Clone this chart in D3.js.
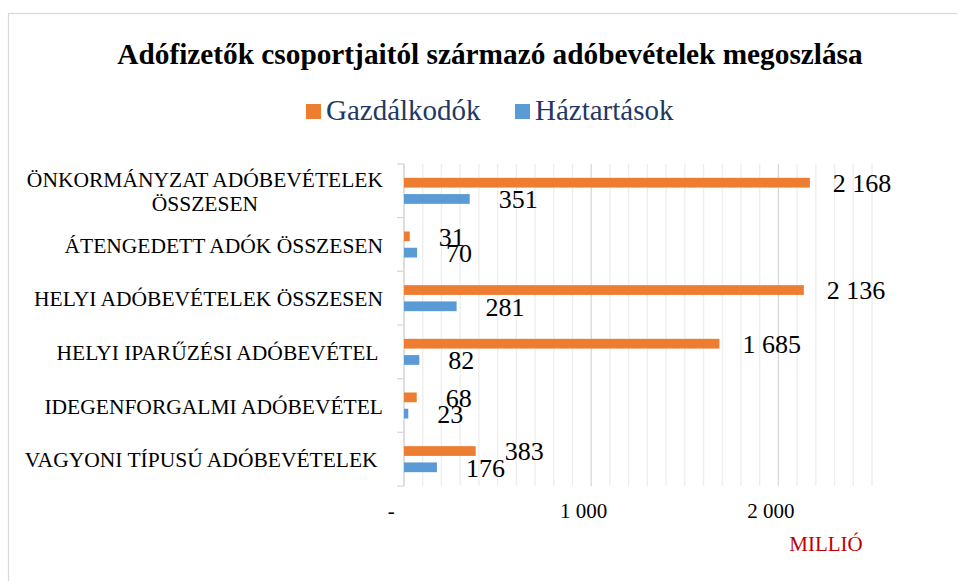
<!DOCTYPE html>
<html>
<head>
<meta charset="utf-8">
<title>Adóbevételek megoszlása</title>
<script src="https://cdn.jsdelivr.net/npm/d3@7/dist/d3.min.js"></script>
<style>
  body { margin: 0; background: #fff; }
  svg text { font-family: 'Liberation Serif', 'Times New Roman', serif; }
</style>
</head>
<body>
<div id="chart"></div>
<script>
// data
var categories = [
  "ÖNKORMÁNYZAT ADÓBEVÉTELEK ÖSSZESEN",
  "ÁTENGEDETT ADÓK ÖSSZESEN",
  "HELYI ADÓBEVÉTELEK ÖSSZESEN",
  "HELYI IPARŰZÉSI ADÓBEVÉTEL ",
  "IDEGENFORGALMI ADÓBEVÉTEL",
  "VAGYONI TÍPUSÚ ADÓBEVÉTELEK "
];
var seriesNames = ["Gazdálkodók", "Háztartások"];
var gazdalkodok = [2168, 31, 2136, 1685, 68, 383];
var haztartasok = [351, 70, 281, 82, 23, 176];
var tickValues = [0, 1000, 2000];
var colors = ["#ED7D31", "#5B9BD5"];

(function() {
  "use strict";

  var w = 957, h = 581;
  var plot = {left: 404, right: 872, top: 164, bottom: 486};
  var serif = "'Liberation Serif', 'Times New Roman', serif";

  var svg = d3.select('#chart')
    .append('svg')
    .attr('width', w)
    .attr('height', h)
    .style('font-family', serif);

  svg.append('rect')
    .attr('width', w).attr('height', h)
    .attr('fill', '#fff');

  // outer frame (runs off the right and bottom edge)
  svg.append('rect')
    .attr('x', 8.5).attr('y', 13.5)
    .attr('width', 1000).attr('height', 700)
    .attr('fill', 'none')
    .attr('stroke', '#D9D9D9')
    .attr('stroke-width', 1.2);

  svg.append('text')
    .attr('x', 490).attr('y', 64)
    .attr('text-anchor', 'middle')
    .style('font-size', '29.3px')
    .style('font-weight', 'bold')
    .text("Adófizetők csoportjaitól származó adóbevételek megoszlása");

  // legend
  var legendX = [306, 515];
  seriesNames.forEach(function(name, i) {
    svg.append('rect')
      .attr('x', legendX[i]).attr('y', 104)
      .attr('width', 15).attr('height', 15)
      .attr('fill', colors[i]);
    svg.append('text')
      .attr('x', legendX[i] + 20).attr('y', 120)
      .style('font-size', '29px')
      .attr('fill', '#1F3864')
      .text(name);
  });

  var fmt = d3.formatLocale({decimal: ",", thousands: " ", grouping: [3], currency: ["", ""]}).format(",.0f");

  var xScale = d3.scaleLinear()
    .domain([0, 2500])
    .range([plot.left, plot.right]);

  var yScale = d3.scaleBand()
    .domain(categories)
    .range([plot.top, plot.bottom])
    .padding(0);

  var ySub = d3.scaleBand()
    .domain(seriesNames)
    .range([0, yScale.bandwidth()])
    .paddingInner(0.4)
    .paddingOuter(0.85);

  // gridlines
  var grid = svg.append('g').attr('class', 'grid');
  grid.selectAll('line.minor')
    .data(d3.range(100, 2501, 100).filter(function(d) { return d % 1000 !== 0; }))
    .enter().append('line')
    .attr('class', 'minor')
    .attr('x1', function(d) { return xScale(d); })
    .attr('x2', function(d) { return xScale(d); })
    .attr('y1', plot.top).attr('y2', plot.bottom)
    .attr('stroke', '#EDEDED').attr('stroke-width', 1.3);
  grid.selectAll('line.major')
    .data(tickValues)
    .enter().append('line')
    .attr('class', 'major')
    .attr('x1', function(d) { return xScale(d); })
    .attr('x2', function(d) { return xScale(d); })
    .attr('y1', plot.top).attr('y2', plot.bottom)
    .attr('stroke', '#D9D9D9').attr('stroke-width', 1.3);

  // category ticks
  var bounds = categories.map(function(c) { return yScale(c); }).concat([plot.bottom]);
  svg.selectAll('line.ctick')
    .data(bounds)
    .enter().append('line')
    .attr('class', 'ctick')
    .attr('x1', plot.left - 7).attr('x2', plot.left)
    .attr('y1', function(d) { return d; }).attr('y2', function(d) { return d; })
    .attr('stroke', '#D9D9D9').attr('stroke-width', 1.3);

  // x axis labels
  var xAxis = d3.axisBottom(xScale)
    .tickValues(tickValues)
    .tickSize(0)
    .tickPadding(17)
    .tickFormat(function(d) { return d === 0 ? "-\u00a0\u00a0" : fmt(d); });

  var ax = svg.append('g')
    .attr('transform', 'translate(0,' + plot.bottom + ')')
    .call(xAxis)
    .attr('font-family', serif);
  ax.select('.domain').remove();
  ax.selectAll('text')
    .attr('dx', -8)
    .attr('fill', '#000')
    .style('font-size', '21px');

  svg.append('text')
    .attr('x', 826).attr('y', 551)
    .attr('text-anchor', 'middle')
    .attr('fill', '#C00000')
    .style('font-size', '21px')
    .text("MILLIÓ");

  // category labels, wrapped when too long
  var labelRight = 383, maxW = 372;
  categories.forEach(function(cat) {
    var cy = yScale(cat) + yScale.bandwidth() / 2;
    var t = svg.append('text')
      .style('font-size', '21.5px')
      .style('white-space', 'pre');
    var tmp = t.append('tspan').text(cat);
    if (tmp.node().getComputedTextLength() <= maxW) {
      t.attr('x', labelRight).attr('y', cy).attr('dy', '0.38em')
        .attr('text-anchor', 'end');
      return;
    }
    tmp.remove();
    var words = cat.trim().split(' '), lines = [], line = [];
    words.forEach(function(wd) {
      var probe = t.append('tspan').text(line.concat([wd]).join(' '));
      var len = probe.node().getComputedTextLength();
      probe.remove();
      if (len > maxW && line.length) { lines.push(line.join(' ')); line = [wd]; }
      else line.push(wd);
    });
    lines.push(line.join(' '));
    var widest = 0;
    lines.forEach(function(l) {
      var probe = t.append('tspan').text(l);
      widest = Math.max(widest, probe.node().getComputedTextLength());
      probe.remove();
    });
    var lh = 23.5;
    var y0 = cy - (lines.length - 1) * lh / 2;
    t.attr('text-anchor', 'middle');
    lines.forEach(function(l, i) {
      t.append('tspan')
        .attr('x', labelRight - widest / 2)
        .attr('y', y0 + i * lh)
        .attr('dy', '0.38em')
        .text(l);
    });
  });

  // axis line
  svg.append('line')
    .attr('x1', plot.left).attr('x2', plot.left)
    .attr('y1', plot.top).attr('y2', plot.bottom)
    .attr('stroke', '#D9D9D9').attr('stroke-width', 1.3);

  // bars
  var seriesData = [gazdalkodok, haztartasok];
  seriesData.forEach(function(vals, si) {
    svg.append('g').selectAll('rect')
      .data(vals)
      .enter().append('rect')
      .attr('x', xScale(0))
      .attr('y', function(d, i) { return yScale(categories[i]) + ySub(seriesNames[si]); })
      .attr('width', function(d) { return xScale(d) - xScale(0); })
      .attr('height', ySub.bandwidth())
      .attr('fill', colors[si]);
  });

  // data labels
  seriesData.forEach(function(vals, si) {
    svg.append('g').selectAll('text')
      .data(vals)
      .enter().append('text')
      .attr('x', function(d) { return xScale(d) + (d >= 1000 ? 23 : 29); })
      .attr('y', function(d, i) { return yScale(categories[i]) + ySub(seriesNames[si]) + ySub.bandwidth() / 2; })
      .attr('dy', '0.36em')
      .style('font-size', '26px')
      .attr('fill', '#000')
      .text(function(d) { return fmt(d); });
  });

})();
</script>
</body>
</html>
